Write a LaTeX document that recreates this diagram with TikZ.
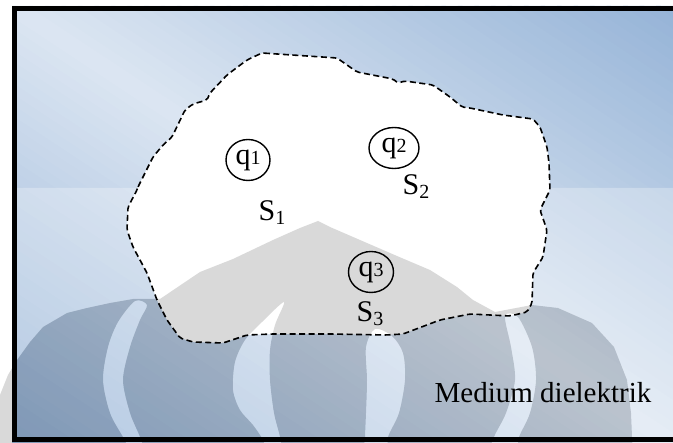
\documentclass[tikz,border=0pt]{standalone}
\usepackage{fontspec}
\setmainfont{Liberation Serif}
\usetikzlibrary{shapes.geometric}
\definecolor{bglight}{HTML}{DCE6F2}
\definecolor{bgblue}{HTML}{95B3D7}
\newcommand\qlab[1]{{\fontsize{30}{30}\selectfont q}{\fontsize{20}{20}\selectfont #1}}
\newcommand\slab[1]{{\fontsize{30}{30}\selectfont S}\raisebox{-3.5pt}{\fontsize{20}{20}\selectfont #1}}
\newcommand\blobpath{(262,53) -- (337,58) -- (357,72) -- (393,79) -- (398,83) -- (405,81) -- (433,85) -- (450,97) -- (462,107) -- (470,108) -- (503,115) -- (533,119) -- (540,127) -- (547,147) -- (549,163) -- (550,190) -- (540,210) -- (547,230) -- (543,257) -- (533,273) -- (532,303) -- (527,312) -- (510,316) -- (490,315) -- (470,314) -- (440,320) -- (403,334) -- (387,335) -- (330,334) -- (273,334) -- (247,335) -- (223,343) -- (193,342) -- (180,338) -- (167,320) -- (157,300) -- (147,273) -- (133,247) -- (127,230) -- (128,207) -- (137,190) -- (138,187) -- (153,157) -- (163,145) -- (172,137) -- (185,110) -- (193,104) -- (207,100) -- (210,93) -- (227,75) -- (247,60) -- cycle}
\newcommand\markshape{(-2,460) -- (-2,400) -- (8,375) -- (17,360) -- (30,342) -- (43,327) -- (67,313) -- (87,308) -- (110,303) -- (133,299) -- (160,299) -- (200,272) -- (233,259) -- (273,240) -- (300,228) -- (318,221) -- (330,227) -- (397,256) -- (430,270) -- (457,287) -- (473,300) -- (495,312) -- (532,305) -- (558,308) -- (592,323) -- (614,347) -- (627,380) -- (631,413) -- (633,460) -- cycle
  plot[smooth cycle] coordinates {(135,301) (118,322) (108,347) (103,380) (110,413) (123,437) (133,455) (145,455) (140,437) (130,413) (123,380) (130,347) (140,320) (147,305)}
  plot[smooth cycle] coordinates {(284,302) (262,322) (245,340) (235,362) (233,390) (240,410) (253,425) (263,440) (268,455) (282,455) (280,437) (274,413) (270,380) (270,350) (275,325)}
  plot[smooth cycle] coordinates {(375,329) (366,347) (367,380) (366,413) (365,437) (365,455) (387,455) (388,437) (399,413) (405,380) (403,353) (392,336)}
  plot[smooth cycle] coordinates {(505,316) (511,347) (515,380) (506,413) (494,437) (490,455) (515,455) (519,437) (530,413) (536,380) (532,347) (518,317)}}
\tikzset{
  charge/.style={ellipse, draw, line width=1.4pt, inner sep=0pt},
  lbl/.style={inner sep=0pt, text=black},
  surface/.style={dash pattern=on 6pt off 3.5pt, line width=1.6pt, rounded corners=2pt},
  shadow/.style={fill=black, opacity=0.15, even odd rule},
  veil/.style={fill=white, opacity=0.28, even odd rule},
}
\begin{document}
\begin{tikzpicture}[x=1pt,y=-1pt]
\useasboundingbox (0,0) rectangle (673,443);
\begin{scope}
\clip (0,0) rectangle (673,443);
% background gradient (reflected, along the anti-diagonal)
\begin{scope}
\clip (12,6) rectangle (673,443);
\foreach \i in {0,...,79}{
  \pgfmathsetmacro\ca{-1+\i*0.025}
  \pgfmathsetmacro\cb{\ca+0.032}
  \pgfmathsetmacro\p{min(100,100*abs(\ca+0.0125))}
  \fill[bgblue!\p!bglight] ({342.5+661*(\ca-0.5)},6) -- ({342.5+661*(\cb-0.5)},6) -- ({342.5+661*(\cb+0.5)},443) -- ({342.5+661*(\ca+0.5)},443) -- cycle;
}
\end{scope}
% closed surface fill
\fill[white, rounded corners=2pt] \blobpath;
% watermark
\path[veil] (-5,188) rectangle (680,470) \markshape;
\path[shadow] \markshape;
% dashed surface outline
\draw[surface] \blobpath;
% charges
\node[charge, minimum width=44pt, minimum height=41pt] (q1) at (248,160) {\qlab{1}};
\node[charge, minimum width=50pt, minimum height=41pt] (q2) at (394,148) {\qlab{2}};
\node[charge, minimum width=45pt, minimum height=41pt] (q3) at (371,272) {\qlab{3}};
% surface labels
\node[lbl, anchor=base west] (s1) at (258.5,221) {\slab{1}};
\node[lbl, anchor=base west] (s2) at (402.5,195) {\slab{2}};
\node[lbl, anchor=base west] (s3) at (356.5,322) {\slab{3}};
\node[lbl, anchor=base west] (medium) at (434.5,403) {\fontsize{29}{29}\selectfont Medium dielektrik};
% frame
\draw[line width=5pt] (14.5,8.5) rectangle (690,440);
\end{scope}
\end{tikzpicture}
\end{document}
